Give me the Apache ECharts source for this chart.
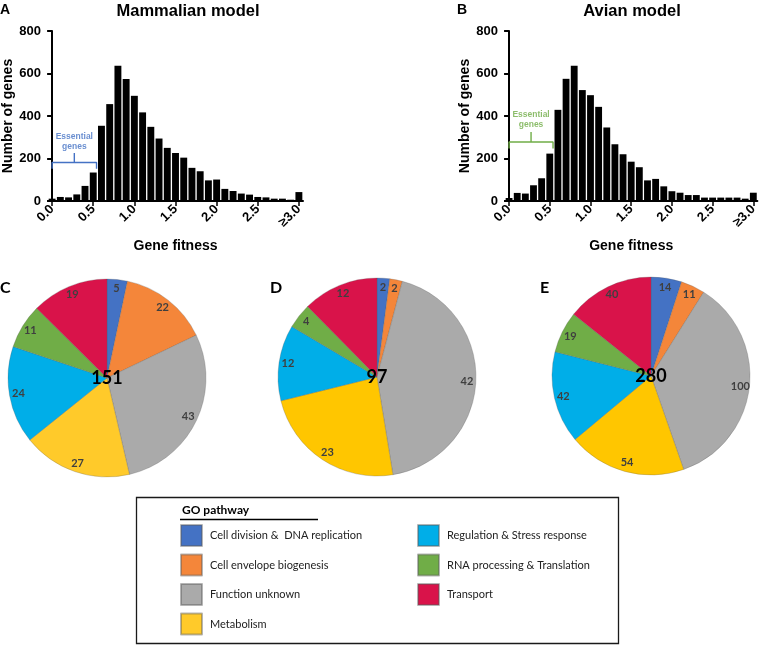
<!DOCTYPE html>
<html>
<head>
<meta charset="utf-8">
<script src="https://cdn.jsdelivr.net/npm/echarts@6/dist/echarts.min.js"></script>
<style>
html,body{margin:0;padding:0;background:#fff;}
#chart{width:760px;height:646px;}
</style>
</head>
<body>
<div id="chart"></div>
<script>
// ---- data ----
const categories = ['0.0','0.1','0.2','0.3','0.4','0.5','0.6','0.7','0.8','0.9','1.0','1.1','1.2','1.3','1.4','1.5','1.6','1.7','1.8','1.9','2.0','2.1','2.2','2.3','2.4','2.5','2.6','2.7','2.8','2.9','3.0'];
const tickLabels = ['0.0','0.5','1.0','1.5','2.0','2.5','\u22653.0'];
const mammalianCounts = [11,19,17,31,71,134,354,456,637,574,495,417,349,294,250,226,204,156,140,97,101,57,47,35,30,19,17,11,11,6,42];
const avianCounts = [14,38,35,74,107,223,429,575,637,522,498,443,346,267,220,185,159,97,104,69,46,39,28,28,16,16,16,16,16,11,39];
const yTicks = [0,200,400,600,800];
const essentialRange = [0, 0.54];
const pathways = ['Cell division &  DNA replication','Cell envelope biogenesis','Function unknown','Metabolism','Regulation & Stress response','RNA processing & Translation','Transport'];
const setC = [5,22,43,27,24,11,19];
const setD = [2,2,42,23,12,4,12];
const setE = [14,11,100,54,42,19,40];

// ---- styles ----
const HF = '"Liberation Sans", Arial, Helvetica, sans-serif';
const PF = 'Lato, "Open Sans", sans-serif';
const colorsC = ['#4472C4','#F4863A','#AAAAAA','#FFCA2A','#00AEE8','#70AD47','#D9134A'];
const colorsDE = ['#4472C4','#F4863A','#AAAAAA','#FFC600','#00AEE8','#70AD47','#D9134A'];

const chart = echarts.init(document.getElementById('chart'), null, {renderer:'canvas'});

function grid(left){ return {left:left, top:31, width:255, height:170, containLabel:false}; }
function catAxis(gi){
  return {
    gridIndex:gi, type:'category', data:categories, boundaryGap:true,
    axisLine:{show:true, lineStyle:{color:'#000', width:2}},
    axisTick:{show:true, alignWithLabel:true, length:5, interval:(i)=>i%5===0, lineStyle:{color:'#000', width:1.5}},
    axisLabel:{show:true, interval:(i)=>i%5===0, rotate:45, margin:6,
      formatter:(v,i)=> (i%5===0 ? tickLabels[i/5] : ''),
      fontFamily:HF, fontWeight:'bold', fontSize:13, color:'#000'},
    name:'Gene fitness', nameLocation:'middle', nameGap:38,
    nameTextStyle:{fontFamily:HF, fontWeight:'bold', fontSize:14, color:'#000'},
    splitLine:{show:false}
  };
}
function hidAxis(gi){ return {gridIndex:gi, type:'value', min:-0.05, max:3.05, show:false}; }
function yAxis(gi){
  return {
    gridIndex:gi, type:'value', min:yTicks[0], max:yTicks[yTicks.length-1], interval:yTicks[1]-yTicks[0],
    axisLine:{show:true, lineStyle:{color:'#000', width:2}},
    axisTick:{show:true, length:5, lineStyle:{color:'#000', width:2}},
    axisLabel:{margin:7, fontFamily:HF, fontWeight:'bold', fontSize:13, color:'#000'},
    splitLine:{show:false},
    name:'Number of genes', nameLocation:'middle', nameGap:32, nameRotate:90,
    nameTextStyle:{fontFamily:HF, fontWeight:'bold', fontSize:14, color:'#000'}
  };
}
function histSeries(xi, yi, data){
  return {type:'bar', xAxisIndex:xi, yAxisIndex:yi, data:data, barCategoryGap:'16%',
    itemStyle:{color:'#000'}, silent:true, animation:false};
}
function braceSeries(xi, yi, yLine, yEnd, yTop, color){
  const mid = (essentialRange[0]+essentialRange[1])/2;
  return [
    {type:'line', xAxisIndex:xi, yAxisIndex:yi, symbol:'none', silent:true, animation:false,
     lineStyle:{color:color, width:1.4},
     data:[[essentialRange[0],yEnd],[essentialRange[0],yLine],[essentialRange[1],yLine],[essentialRange[1],yEnd]]},
    {type:'line', xAxisIndex:xi, yAxisIndex:yi, symbol:'none', silent:true, animation:false,
     lineStyle:{color:color, width:1.4},
     data:[[mid,yLine],[mid,yTop]]}
  ];
}
function braceText(xi, yi, yText, color){
  const mid = (essentialRange[0]+essentialRange[1])/2;
  return {type:'scatter', xAxisIndex:xi, yAxisIndex:yi, symbolSize:2, silent:true, animation:false,
    itemStyle:{color:'rgba(0,0,0,0)'}, data:[[mid,yText]], z:20,
    label:{show:true, position:'inside', formatter:'Essential\ngenes', color:color,
      fontFamily:HF, fontWeight:'bold', fontSize:8.5, lineHeight:10, align:'center', verticalAlign:'middle'}};
}
function pieFill(center, vals, colors){
  return {type:'pie', center:center, radius:[0,99], startAngle:90, clockwise:true,
    silent:true, animation:false, avoidLabelOverlap:false,
    label:{show:false}, labelLine:{show:false},
    itemStyle:{borderColor:'rgba(90,90,90,0.45)', borderWidth:0.6},
    data: vals.map((v,i)=>({name:pathways[i], value:v, itemStyle:{color:colors[i]}}))};
}
function pieLabels(center, vals){
  return {type:'pie', center:center, radius:[75,99], startAngle:90, clockwise:true,
    silent:true, animation:false, avoidLabelOverlap:false,
    itemStyle:{color:'rgba(0,0,0,0)', borderWidth:0},
    labelLine:{show:false},
    label:{show:true, position:'inside', formatter:'{c}', color:'#3F3F3F',
      fontFamily:PF, fontWeight:'bold', fontSize:11},
    data: vals.map((v,i)=>({name:pathways[i], value:v}))};
}
const sum = a => a.reduce((s,v)=>s+v,0);
function txt(x,y,text,size,family,weight,align,color){
  return {type:'text', x:x, y:y, silent:true, z:100,
    style:{text:text, fontSize:size, fontFamily:family, fontWeight:weight||'bold',
      fill:color||'#000', align:align||'left', verticalAlign:'middle'}};
}

const legendCommon = {orient:'vertical', itemWidth:21, itemHeight:21, itemGap:6.5, icon:'rect',
  padding:0, selectedMode:false,
  textStyle:{fontFamily:PF, fontSize:11, color:'#222', padding:[0,0,0,3]}};

const option = {
  backgroundColor:'#fff',
  animation:false,
  grid:[grid(48), grid(505)],
  xAxis:[catAxis(0), hidAxis(0), catAxis(1), hidAxis(1)],
  yAxis:[yAxis(0), yAxis(1)],
  legend:[
    Object.assign({}, legendCommon, {left:180, top:524, data:pathways.slice(0,4)}),
    Object.assign({}, legendCommon, {left:417, top:524, data:pathways.slice(4)})
  ],
  series:[
    histSeries(0,0,mammalianCounts),
    histSeries(2,1,avianCounts),
    ...braceSeries(1,0,181,152,226,'#4472C4'),
    braceText(1,0,280,'#4472C4'),
    ...braceSeries(3,1,278,247,325,'#70AD47'),
    braceText(3,1,381,'#70AD47'),
    pieFill([107,378], setC, colorsC),
    pieFill([377,377], setD, colorsDE),
    pieFill([651,376], setE, colorsDE),
    pieLabels([107,378], setC),
    pieLabels([377,377], setD),
    pieLabels([651,376], setE)
  ],
  graphic:[
    txt(0,10,'A',14,HF),
    txt(457,10,'B',14,HF),
    txt(188,11,'Mammalian model',16.5,HF,'bold','center'),
    txt(632,11,'Avian model',16.5,HF,'bold','center'),
    txt(0,288,'C',16,PF),
    txt(270,288,'D',16,PF),
    txt(540,288,'E',16,PF),
    txt(107,378,String(sum(setC)),18,PF,'bold','center'),
    txt(377,377,String(sum(setD)),18,PF,'bold','center'),
    txt(651,376,String(sum(setE)),18,PF,'bold','center'),
    {type:'rect', silent:true, z:90, shape:{x:136.5, y:497.5, width:482, height:146},
      style:{fill:'none', stroke:'#1a1a1a', lineWidth:1.3}},
    txt(182,510,'GO pathway',12,PF,'bold','left','#000'),
    {type:'line', silent:true, z:90, shape:{x1:180, y1:519.5, x2:318, y2:519.5},
      style:{stroke:'#000', lineWidth:1.3}}
  ]
};
chart.setOption(option);
</script>
</body>
</html>
